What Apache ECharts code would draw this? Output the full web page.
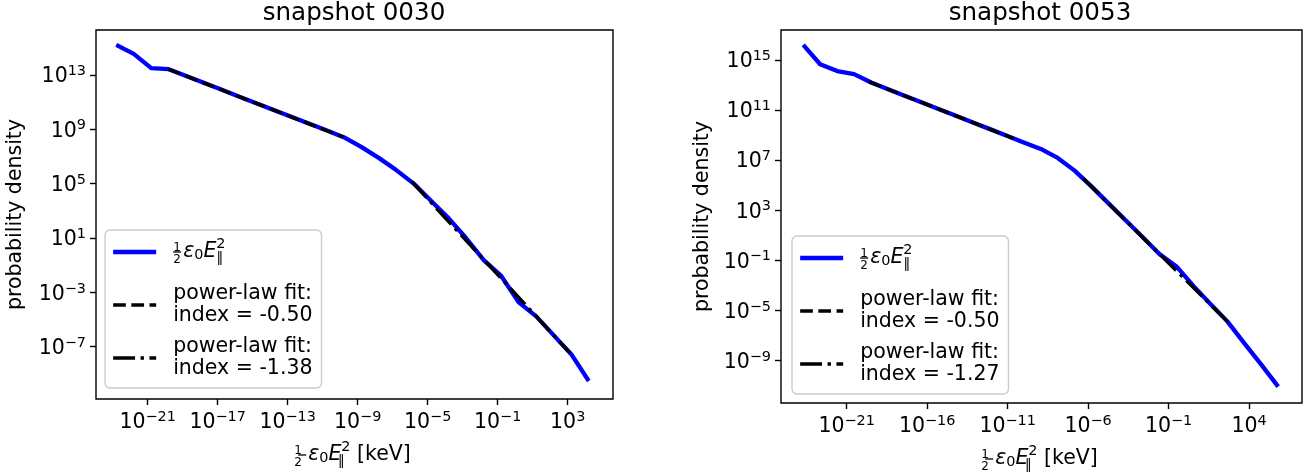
<!DOCTYPE html>
<html>
<head>
<meta charset="utf-8">
<script src="https://cdn.jsdelivr.net/npm/echarts@6/dist/echarts.min.js"></script>
<style>
html,body{margin:0;padding:0;background:#ffffff;}
#chart{width:1307px;height:475px;}
</style>
</head>
<body>
<div id="chart"></div>
<script>
// ---------------- data ----------------
const titles = ['snapshot 0030', 'snapshot 0053'];

// snapshot 0030
const energy0030  = [1.6e-23, 1.6e-22, 1.6e-21, 1.6e-20, 1.6e-19, 1.6e-18, 1.6e-17, 1.6e-16, 1.6e-15, 1.6e-14,
                     1.6e-13, 1.6e-12, 1.6e-11, 1.6e-10, 1.6e-9, 1.6e-8, 1.6e-7, 1.6e-6, 1.6e-5, 1.6e-4,
                     1.6e-3, 1.6e-2, 0.16, 1.6, 16, 160, 1600, 16000];
const density0030 = [1.6e15, 3.5e14, 3.1e13, 2.6e13, 8.3e12, 2.6e12, 8.3e11, 2.6e11, 8.3e10, 2.6e10,
                     8.3e9, 2.6e9, 8.3e8, 2.6e8, 5.0e7, 7.8e6, 9.8e5, 1.0e5, 5.2e3, 275,
                     9.5, 0.23, 1.6e-2, 1.8e-4, 1.7e-5, 6.8e-7, 2.8e-8, 3.0e-10];
const fitLowEnergy0030   = [1.51e-20, 1.51e-10];
const fitLowDensity0030  = [2.63e13, 2.63e8];
const fitHighEnergy0030  = [1.23e-6, 1.35e3];
const fitHighDensity0030 = [1.41e5, 3.47e-8];
const fitIndex0030 = ['-0.50', '-1.38'];

// snapshot 0053
const energy0053  = [2.0e-24, 2.24e-23, 2.57e-22, 2.88e-21, 3.31e-20, 3.72e-19, 4.27e-18, 4.79e-17, 5.5e-16, 6.17e-15,
                     6.92e-14, 7.94e-13, 8.91e-12, 1.0e-10, 1.15e-9, 1.29e-8, 1.45e-7, 1.66e-6, 1.86e-5, 2.14e-4,
                     2.4e-3, 2.69e-2, 0.309, 3.47, 39.8, 447, 5.01e3, 5.75e4, 6.46e5];
const density0053 = [1.6e16, 4.6e14, 1.3e14, 7.5e13, 1.6e13, 4.7e12, 1.35e12, 4.0e11, 1.17e11, 3.5e10,
                     1.0e10, 3.0e9, 8.7e8, 2.6e8, 7.9e7, 1.5e7, 1.45e6, 7.6e4, 3.5e3, 155,
                     7.1, 0.32, 3.2e-2, 8.9e-4, 3.2e-5, 1.3e-6, 2.4e-8, 4.5e-10, 7.9e-12];
const fitLowEnergy0053   = [2.5e-20, 2.24e-11];
const fitLowDensity0053  = [1.8e13, 5.5e8];
const fitHighEnergy0053  = [5.0e-7, 501];
const fitHighDensity0053 = [3.47e5, 1.15e-6];
const fitIndex0053 = ['-0.50', '-1.27'];

// tick values
const xTicks0030 = [1e-21, 1e-17, 1e-13, 1e-9, 1e-5, 1e-1, 1e3];
const yTicks0030 = [1e-7, 1e-3, 1e1, 1e5, 1e9, 1e13];
const xTicks0053 = [1e-21, 1e-16, 1e-11, 1e-6, 1e-1, 1e4];
const yTicks0053 = [1e-9, 1e-5, 1e-1, 1e3, 1e7, 1e11, 1e15];

// axis extents
const xRange0030 = [1.12e-24, 3.89e5];
const yRange0030 = [1.41e-11, 2.0e16];
const xRange0053 = [8.3e-26, 1.95e7];
const yRange0053 = [3.9e-13, 2.5e17];

// ---------------- styling / layout ----------------
const F = 'DejaVu Sans';
const BASE = 20.5, SMALL = 14.4;
const BLUE_W = 4.3, FIT_W = 3.4;
const DASH = [12.7, 5.5], DASHDOT = [21.9, 5.5, 3.4, 5.5];

function powLabel(v) {
  const e = Math.round(Math.log10(v));
  return '{b|10}{s|' + (e < 0 ? '\u2212' + (-e) : String(e)) + '}';
}
const tickRich = {
  b: {fontFamily: F, fontSize: BASE, color: '#000', lineHeight: 24, padding: [4, 0, 0, 0]},
  s: {fontFamily: F, fontSize: SMALL, color: '#000', lineHeight: 24, padding: [0, 0, 7, 0]}
};
function mathRich(lh) {
  return {
    fn: {fontFamily: F, fontSize: 12, color: '#000', width: 0.001, lineHeight: lh, padding: [0, 0, 9, 0]},
    fd: {fontFamily: F, fontSize: 12, color: '#000', width: 0.001, lineHeight: lh, padding: [15, 0, 0, 0]},
    fb: {fontFamily: F, fontSize: 12, width: 8, height: 1.3, backgroundColor: '#000', lineHeight: lh},
    gi: {fontFamily: F, fontSize: BASE, fontStyle: 'italic', color: '#000', lineHeight: lh, padding: [0, 0, 0, 2]},
    mi: {fontFamily: F, fontSize: BASE, fontStyle: 'italic', color: '#000', lineHeight: lh},
    sb: {fontFamily: F, fontSize: SMALL, color: '#000', lineHeight: lh, padding: [6, 0, 0, 0]},
    sq: {fontFamily: F, fontSize: SMALL, color: '#000', lineHeight: lh, padding: [12, 0, 0, 0], width: 0.001},
    sp: {fontFamily: F, fontSize: SMALL, color: '#000', lineHeight: lh, padding: [0, 0, 15, 0]},
    t:  {fontFamily: F, fontSize: BASE, color: '#000', lineHeight: lh}
  };
}
const MATH = '{fn|1}{fd|2}{fb| }{gi|\u03b5}{sb|0}{mi|E}{sq|\u2225}{sp|2}';

const NAME_E = 'field energy';
const NAME_FIT1 = 'power-law fit: index = -0.50';
const panels = [
  {left: 96, top: 30, width: 517, height: 369, titleX: 354,
   xRange: xRange0030, yRange: yRange0030, xTicks: xTicks0030, yTicks: yTicks0030,
   energy: energy0030, density: density0030,
   fitLowE: fitLowEnergy0030, fitLowD: fitLowDensity0030, fitHighE: fitHighEnergy0030, fitHighD: fitHighDensity0030,
   idx: fitIndex0030, legendLeft: 105, legendTop: 230, yNameGap: 70},
  {left: 781, top: 30, width: 521, height: 373, titleX: 1040,
   xRange: xRange0053, yRange: yRange0053, xTicks: xTicks0053, yTicks: yTicks0053,
   energy: energy0053, density: density0053,
   fitLowE: fitLowEnergy0053, fitLowD: fitLowDensity0053, fitHighE: fitHighEnergy0053, fitHighD: fitHighDensity0053,
   idx: fitIndex0053, legendLeft: 792, legendTop: 236, yNameGap: 68}
];

const option = {
  animation: false,
  backgroundColor: '#ffffff',
  textStyle: {fontFamily: F},
  title: [], grid: [], xAxis: [], yAxis: [], series: [], legend: []
};

const legendRich = Object.assign(mathRich(44), {
  G:  {fontFamily: F, fontSize: BASE, width: 12, lineHeight: 44},
  g:  {fontFamily: F, fontSize: BASE, width: 12, lineHeight: 22},
  tx: {fontFamily: F, fontSize: BASE, color: '#000', lineHeight: 22}
});
const hiddenSymbol = {color: 'rgba(0,0,0,0)', borderColor: 'rgba(0,0,0,0)', borderWidth: 0, opacity: 0};

panels.forEach((p, i) => {
  const fit2Name = 'power-law fit: index = ' + p.idx[1];
  option.title.push({
    text: titles[i], left: p.titleX, top: 0, textAlign: 'center', padding: 0,
    textStyle: {fontFamily: F, fontSize: 24.6, fontWeight: 'normal', color: '#000', lineHeight: 28}
  });
  option.grid.push({
    left: p.left, top: p.top, width: p.width, height: p.height,
    show: true, borderColor: '#000', borderWidth: 1.4, backgroundColor: 'transparent',
    containLabel: false, outerBoundsMode: 'none'
  });
  option.xAxis.push({
    type: 'log', logBase: 10, gridIndex: i, position: 'bottom',
    min: p.xRange[0], max: p.xRange[1],
    axisLine: {show: false},
    axisTick: {show: true, length: 6, lineStyle: {color: '#000', width: 1.4}, customValues: p.xTicks},
    minorTick: {show: false}, splitLine: {show: false},
    axisLabel: {customValues: p.xTicks, margin: 10, formatter: powLabel, rich: tickRich, hideOverlap: false},
    name: MATH + '{t| [keV]}', nameLocation: 'middle', nameGap: 44,
    nameTextStyle: {fontFamily: F, fontSize: BASE, color: '#000', lineHeight: 24, rich: mathRich(24)}
  });
  option.yAxis.push({
    type: 'log', logBase: 10, gridIndex: i, position: 'left',
    min: p.yRange[0], max: p.yRange[1],
    axisLine: {show: false},
    axisTick: {show: true, length: 6, lineStyle: {color: '#000', width: 1.4}, customValues: p.yTicks},
    minorTick: {show: false}, splitLine: {show: false},
    axisLabel: {customValues: p.yTicks, margin: 10, formatter: powLabel, rich: tickRich, hideOverlap: false},
    name: 'probability density', nameLocation: 'middle', nameGap: p.yNameGap,
    nameTextStyle: {fontFamily: F, fontSize: BASE, color: '#000'}
  });
  option.series.push({
    type: 'line', name: NAME_E, xAxisIndex: i, yAxisIndex: i, symbol: 'none', silent: true, z: 2,
    data: p.energy.map((x, k) => [x, p.density[k]]),
    lineStyle: {color: '#0000ff', width: BLUE_W, cap: 'butt', join: 'round'},
    itemStyle: {color: '#0000ff'}
  });
  option.series.push({
    type: 'line', name: NAME_FIT1, xAxisIndex: i, yAxisIndex: i, symbol: 'none', silent: true, z: 3,
    data: p.fitLowE.map((x, k) => [x, p.fitLowD[k]]),
    lineStyle: {color: '#000', width: FIT_W, type: DASH, cap: 'butt'},
    itemStyle: {color: '#000'}
  });
  option.series.push({
    type: 'line', name: fit2Name, xAxisIndex: i, yAxisIndex: i, symbol: 'none', silent: true, z: 4,
    data: p.fitHighE.map((x, k) => [x, p.fitHighD[k]]),
    lineStyle: {color: '#000', width: FIT_W, type: DASHDOT, cap: 'butt'},
    itemStyle: {color: '#000'}
  });
  option.legend.push({
    show: true, orient: 'vertical', left: p.legendLeft, top: p.legendTop,
    data: [
      {name: NAME_E, itemStyle: hiddenSymbol, lineStyle: {width: BLUE_W, color: '#0000ff', type: 'solid'}},
      {name: NAME_FIT1, itemStyle: hiddenSymbol, lineStyle: {width: FIT_W, color: '#000', type: DASH}},
      {name: fit2Name, itemStyle: hiddenSymbol, lineStyle: {width: FIT_W, color: '#000', type: DASHDOT}}
    ],
    itemWidth: 43, itemHeight: 14, itemGap: 9, padding: [0, 9, 8, 6],
    backgroundColor: 'rgba(255,255,255,0.8)', borderColor: '#cccccc', borderWidth: 1.4, borderRadius: 5,
    selectedMode: false,
    formatter: function (name) {
      if (name === NAME_E) return '{G| }' + MATH;
      const idx = name.split('= ')[1];
      return '{g| }{tx|power-law fit:}\n{g| }{tx|index = ' + idx + '}';
    },
    textStyle: {fontFamily: F, fontSize: BASE, color: '#000', lineHeight: 22, rich: legendRich}
  });
});

const chart = echarts.init(document.getElementById('chart'), null, {renderer: 'canvas'});
chart.setOption(option);
</script>
</body>
</html>
